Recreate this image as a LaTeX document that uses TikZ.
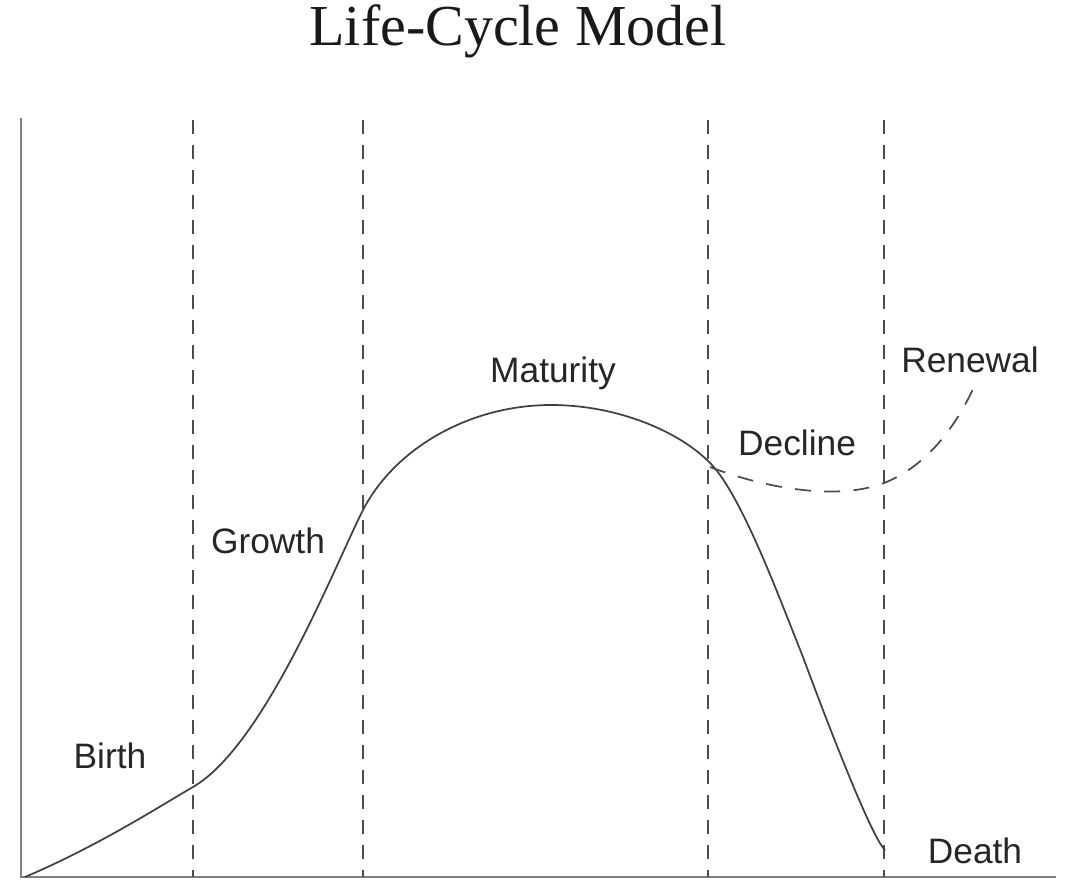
\documentclass[tikz,border=0pt]{standalone}
\usepackage{fontspec}
\setmainfont{Liberation Serif}
\newfontfamily\labelfont{Liberation Sans}
\begin{document}
\begin{tikzpicture}[x=0.75pt,y=-0.75pt,
  axisline/.style={draw=black!50,line width=2.2pt},
  phaseline/.style={draw=black!70,line width=1.8pt,dash pattern=on 10.5pt off 8.25pt},
  lifecurve/.style={draw=black!75,line width=1.3pt,line join=round},
  renewcurve/.style={draw=black!70,line width=1.3pt,dash pattern=on 12pt off 10pt},
  phaselabel/.style={font=\labelfont\fontsize{26.5pt}{30pt}\selectfont,text=black!85,anchor=base,inner sep=0pt},
  titlelabel/.style={font=\fontsize{43.5pt}{48pt}\selectfont,text=black!90,anchor=base,inner sep=0pt}]
\useasboundingbox (0,0) rectangle (1066,879);
% title
\node[titlelabel] (title) at (518,45) {Life-Cycle Model};
% axes
\coordinate (origin) at (21,877);
\coordinate (ytop) at (21,118);
\coordinate (xend) at (1056,877);
\draw[axisline] (ytop) -- (origin) -- (xend);
% phase boundaries
\foreach \px/\nm in {193/b1,363/b2,708/b3,884/b4}{
  \coordinate (\nm top) at (\px,120);
  \coordinate (\nm bot) at (\px,877);
  \draw[phaseline] (\nm top) -- (\nm bot);
}
% life curve
\coordinate (p0) at (25,877);
\coordinate (p1) at (193,787);
\coordinate (p2) at (363,510);
\coordinate (p3) at (551,405);
\coordinate (p4) at (708,461);
\coordinate (p5) at (803,657);
\coordinate (p6) at (885,850);
\draw[lifecurve] (p0) .. controls (100,845) and (160,806) .. (p1)
  .. controls (265,745) and (335,565) .. (p2)
  .. controls (395,448) and (470,405) .. (p3)
  .. controls (620,405) and (680,433) .. (p4)
  .. controls (740,490) and (780,600) .. (p5)
  .. controls (830,730) and (872,838) .. (p6);
% renewal curve
\coordinate (r0) at (710,467);
\coordinate (r1) at (884,483);
\coordinate (r2) at (977,380);
\draw[renewcurve] (r0) .. controls (770,490) and (840,500) .. (r1)
  .. controls (930,465) and (960,420) .. (r2);
% labels
\node[phaselabel] (birth) at (110,768) {Birth};
\node[phaselabel] (growth) at (268,553) {Growth};
\node[phaselabel] (maturity) at (553,382) {Maturity};
\node[phaselabel] (decline) at (797,455) {Decline};
\node[phaselabel] (renewal) at (970,372) {Renewal};
\node[phaselabel] (death) at (975,863) {Death};
\end{tikzpicture}
\end{document}
